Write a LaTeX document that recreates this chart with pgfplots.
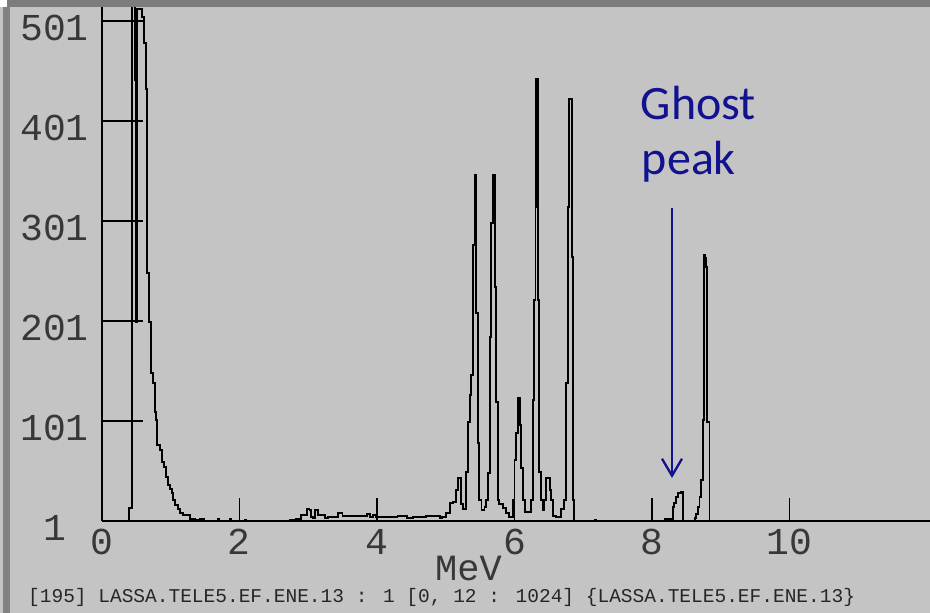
\documentclass[border=0pt]{standalone}
\usepackage{pgfplots}
\pgfplotsset{compat=1.18}
\usepackage{fontspec}
\usetikzlibrary{arrows.meta}
\newfontfamily\monof{Liberation Mono}
\newfontfamily\calib{Carlito}
\definecolor{bgg}{RGB}{196,196,196}
\definecolor{bord}{RGB}{130,130,130}
\definecolor{ghost}{RGB}{18,18,145}
\begin{document}
\begin{tikzpicture}
\path[use as bounding box] (-101.7pt,-92pt) rectangle (828.3pt,521pt);
\fill[bgg] (-101.7pt,-92pt) rectangle (828.3pt,521pt);
\begin{axis}[
  at={(0pt,0pt)}, anchor=south west,
  scale only axis, width=828.3pt, height=514pt,
  xmin=0, xmax=12.04, ymin=1, ymax=515,
  axis x line=bottom, axis y line=left,
  axis line style={-, line width=1.8pt, black},
  tick align=inside,
  major tick length=41pt,
  xtick style={/pgfplots/major tick length=23pt, line width=1.4pt, black},
  ytick style={line width=1.4pt, black},
  xtick={0,2,4,6,8,10},
  ytick={1,101,201,301,401,501},
  minor tick num=0,
  scaled ticks=false,
  /pgf/number format/assume math mode=true,
  ticklabel style={font=\monof\fontsize{38pt}{40pt}\selectfont, text=black!78},
  yticklabel style={anchor=center, xshift=-47.2pt, yshift=-7pt},
  xticklabel style={anchor=north, yshift=-5pt},
  xlabel={MeV},
  xlabel style={at={(axis description cs:0.4428,0)}, anchor=base, yshift=-59.5pt, inner sep=0pt,
     font=\monof\fontsize{37pt}{39pt}\selectfont, text=black!78},
]
\addplot[const plot, black, line width=1.9pt] coordinates {
(0,1) (0.40,14) (0.44,2000) (0.484,442) (0.499,200) (0.519,513) (0.592,505)
(0.61,479) (0.64,433) (0.658,249) (0.688,200) (0.722,149) (0.75,139)
(0.775,110) (0.789,102) (0.808,77) (0.847,72) (0.872,60) (0.906,55)
(0.935,45) (0.968,37) (0.993,33) (1.017,29) (1.041,22) (1.065,17)
(1.109,13) (1.138,9) (1.182,7) (1.283,3) (1.356,2) (1.428,3) (1.487,1)
(1.69,3) (1.71,1) (1.865,3) (1.885,1) (2.08,2) (2.10,1)
(2.50,1) (2.74,2) (2.83,3) (2.90,7) (2.98,13) (3.02,12) (3.04,5) (3.07,4)
(3.10,12) (3.14,11) (3.15,7) (3.25,4) (3.29,5) (3.43,9) (3.50,6) (3.85,8)
(3.90,5) (3.95,7) (3.99,5) (4.14,5) (4.30,6) (4.44,4) (4.52,5) (4.72,6)
(4.92,4) (4.94,5) (5.01,9) (5.06,19) (5.10,20) (5.15,32) (5.18,44)
(5.22,18) (5.25,13) (5.29,50) (5.32,100) (5.35,127) (5.37,147) (5.40,277)
(5.42,347) (5.445,209) (5.47,79) (5.49,22) (5.52,12) (5.565,15) (5.59,22)
(5.615,49) (5.64,185) (5.66,299) (5.685,347) (5.715,235) (5.735,120)
(5.755,22) (5.78,18) (5.83,14) (5.88,9) (5.92,5) (5.975,22) (6.00,62)
(6.025,89) (6.05,124) (6.075,97) (6.10,54) (6.125,22) (6.15,10) (6.24,22)
(6.265,122) (6.29,222) (6.305,315) (6.315,443) (6.34,222) (6.36,50)
(6.385,22) (6.41,12) (6.435,22) (6.46,44) (6.51,32) (6.535,22) (6.56,6)
(6.605,5) (6.68,13) (6.725,22) (6.75,139) (6.775,315) (6.795,423)
(6.835,265) (6.855,22) (6.87,1) (7.17,2) (7.19,1)
(8.18,3) (8.23,1) (8.26,3) (8.30,15) (8.325,19) (8.35,25) (8.375,29)
(8.425,30) (8.45,1) (8.62,4) (8.64,8) (8.665,15) (8.69,25) (8.715,42)
(8.74,102) (8.75,267) (8.765,264) (8.785,255) (8.80,100) (8.835,1) (12.04,1)
};
\end{axis}
% window border
\fill[bord] (-98.7pt,-92pt) rectangle (-91.7pt,514pt);
\fill[bord!105] (-94.7pt,514pt) rectangle (828.3pt,521pt);
\fill[white] (-101.7pt,514pt) rectangle (-94.7pt,521pt);
% annotation
\node[anchor=base west, inner sep=0pt, text=ghost, font=\calib\fontsize{48pt}{50pt}\selectfont] at (538.9pt,401pt) {Ghost};
\node[anchor=base west, inner sep=0pt, text=ghost, font=\calib\fontsize{48pt}{50pt}\selectfont] at (540pt,346pt) {peak};
\draw[ghost, line width=2.3pt, -{Straight Barb[length=17pt, width=20pt]}] (570.3pt,313pt) -- (570.3pt,43pt);
% status line
\node[anchor=base west, inner sep=0pt, font=\monof\fontsize{19.5pt}{21pt}\selectfont, text=black!85] at (-73.7pt,-82pt) {[195] LASSA.TELE5.EF.ENE.13 : 1 [0, 12 : 1024] \{LASSA.TELE5.EF.ENE.13\}};
\end{tikzpicture}
\end{document}
